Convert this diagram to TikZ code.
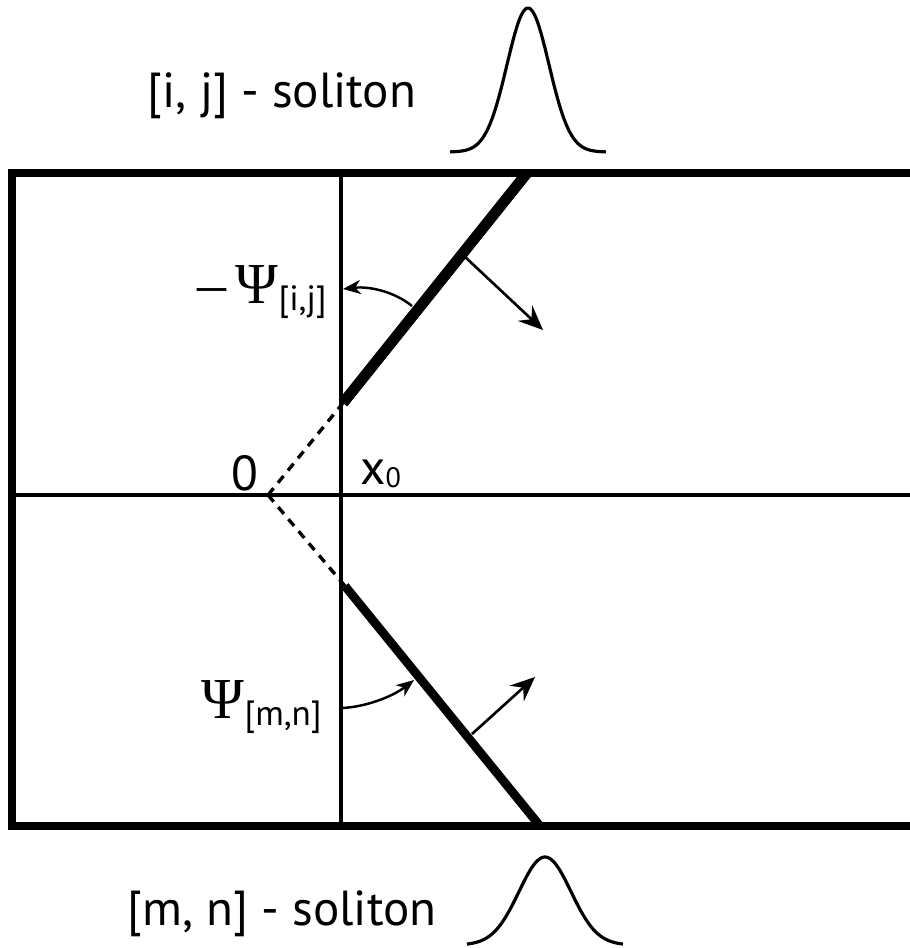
\documentclass[tikz,border=0pt]{standalone}
\usepackage{fontspec}
\setmainfont{PT Sans}
\newfontfamily\greekfont{Liberation Serif}
\usetikzlibrary{arrows.meta}

\begin{document}
\begin{tikzpicture}[x=0.02cm, y=-0.02cm,
  frame/.style={line width=4.4pt},
  axis/.style={line width=1.9pt},
  front/.style={line width=6.2pt},
  ghost/.style={line width=1.9pt, dash pattern=on 5pt off 4pt},
  normal/.style={line width=1.5pt, -{Stealth[length=14pt, width=12pt, inset=5pt]}},
  angle/.style={line width=1.4pt, -{Stealth[length=10pt, width=8pt, inset=3pt]}},
  every node/.style={inner sep=0pt}
]
\useasboundingbox (0,0) rectangle (910,948);

% frame
\coordinate (tr) at (910,173);
\coordinate (tl) at (12,173);
\coordinate (bl) at (12,826);
\coordinate (br) at (910,826);
\draw[frame] (tr) -- (tl) -- (bl) -- (br);

% axes
\coordinate (xl) at (12,495);
\coordinate (xr) at (910,495);
\coordinate (vt) at (341,173);
\coordinate (vb) at (341,826);
\draw[axis] (xl) -- (xr);
\draw[axis] (vt) -- (vb);

% fronts
\coordinate (O) at (268,495);
\coordinate (ijstart) at (343,403);
\coordinate (ijend) at (527,173);
\coordinate (mnstart) at (345,586);
\coordinate (mnend) at (540,826);
\draw[ghost] (O) -- (ijstart);
\draw[ghost] (O) -- (mnstart);
\draw[front] (ijstart) -- (ijend);
\draw[front, line width=5pt] (mnstart) -- (mnend);

% normals
\coordinate (ijfoot) at (463,255);
\coordinate (ijtip) at (543,330);
\coordinate (mnfoot) at (472,734);
\coordinate (mntip) at (535,677);
\draw[normal] (ijfoot) -- (ijtip);
\draw[normal] (mnfoot) -- (mntip);

% angles
\coordinate (ija) at (412,306);
\coordinate (ijb) at (343,289);
\coordinate (mna) at (342,708);
\coordinate (mnb) at (414,680);
\draw[angle] (ija) .. controls (395,292) and (370,286) .. (ijb);
\draw[angle] (mna) .. controls (365,707) and (392,697) .. (mnb);

% labels
\node[anchor=base east] (ijlabel) at (327,303)
  {{\greekfont\fontsize{33}{36}\selectfont –\,Ψ}\raisebox{-4pt}{\fontsize{20}{24}\selectfont[i,j]}};
\node[anchor=base east] (mnlabel) at (322,718)
  {{\greekfont\fontsize{33}{36}\selectfont Ψ}\raisebox{-4pt}{\fontsize{20}{24}\selectfont[m,n]}};
\node[anchor=base east, font=\fontsize{28}{32}\selectfont] (zero) at (259,490) {0};
\node[anchor=base west, font=\fontsize{28}{32}\selectfont] (xzero) at (360,484)
  {x\raisebox{-2pt}{\fontsize{16}{18}\selectfont 0}};
\node[anchor=base, font=\fontsize{28}{32}\selectfont] (ijname) at (282,107) {[i, j] - soliton};
\node[anchor=base, font=\fontsize{28}{32}\selectfont] (mnname) at (282,925) {[m, n] - soliton};

% soliton profiles
\draw[line width=1.8pt] plot[domain=-78:78, samples=90, smooth]
  ({528+\x}, {152-144*exp(-(\x)^2/(2*21^2))});
\draw[line width=1.8pt] plot[domain=-78:78, samples=90, smooth]
  ({545+\x}, {945-88*exp(-(\x)^2/(2*26^2))});

\end{tikzpicture}
\end{document}
